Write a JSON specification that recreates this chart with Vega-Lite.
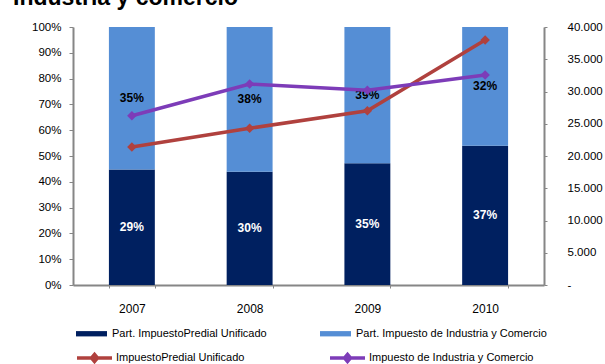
{
  "$schema": "https://vega.github.io/schema/vega-lite/v6.json",
  "width": 471,
  "height": 258,
  "autosize": {"type": "none"},
  "padding": {"left": 73, "top": 27, "right": 61, "bottom": 79},
  "background": "white",
  "title": {
    "text": "Industria y comercio",
    "anchor": "start",
    "frame": "group",
    "font": "Liberation Sans",
    "fontSize": 23,
    "fontWeight": "bold",
    "color": "#000000",
    "baseline": "alphabetic",
    "offset": 0,
    "dx": -60,
    "dy": 7
  },
  "config": {
    "view": {"stroke": null},
    "font": "Liberation Sans",
    "axis": {
      "labelFont": "Liberation Sans",
      "labelColor": "#000000",
      "domainColor": "#868686",
      "tickColor": "#868686",
      "grid": false,
      "title": null,
      "labelOverlap": false
    },
    "legend": {
      "labelFont": "Liberation Sans",
      "labelFontSize": 11,
      "labelColor": "#000000",
      "labelLimit": 400,
      "padding": 0,
      "title": null
    }
  },
  "datasets": {
    "barras": [
      {"anio": "2007", "serie": "Part. ImpuestoPredial Unificado", "orden": 1, "participacion": 0.448, "etiqueta": "29%"},
      {"anio": "2007", "serie": "Part. Impuesto de Industria y Comercio", "orden": 2, "participacion": 0.552, "etiqueta": "35%"},
      {"anio": "2008", "serie": "Part. ImpuestoPredial Unificado", "orden": 1, "participacion": 0.439, "etiqueta": "30%"},
      {"anio": "2008", "serie": "Part. Impuesto de Industria y Comercio", "orden": 2, "participacion": 0.561, "etiqueta": "38%"},
      {"anio": "2009", "serie": "Part. ImpuestoPredial Unificado", "orden": 1, "participacion": 0.472, "etiqueta": "35%"},
      {"anio": "2009", "serie": "Part. Impuesto de Industria y Comercio", "orden": 2, "participacion": 0.528, "etiqueta": "39%"},
      {"anio": "2010", "serie": "Part. ImpuestoPredial Unificado", "orden": 1, "participacion": 0.54, "etiqueta": "37%"},
      {"anio": "2010", "serie": "Part. Impuesto de Industria y Comercio", "orden": 2, "participacion": 0.46, "etiqueta": "32%"}
    ],
    "lineas": [
      {"anio": "2007", "serie": "ImpuestoPredial Unificado", "valor": 21400},
      {"anio": "2008", "serie": "ImpuestoPredial Unificado", "valor": 24300},
      {"anio": "2009", "serie": "ImpuestoPredial Unificado", "valor": 27000},
      {"anio": "2010", "serie": "ImpuestoPredial Unificado", "valor": 38000},
      {"anio": "2007", "serie": "Impuesto de Industria y Comercio", "valor": 26250},
      {"anio": "2008", "serie": "Impuesto de Industria y Comercio", "valor": 31150},
      {"anio": "2009", "serie": "Impuesto de Industria y Comercio", "valor": 30200},
      {"anio": "2010", "serie": "Impuesto de Industria y Comercio", "valor": 32550}
    ]
  },
  "layer": [
    {
      "layer": [
        {
          "data": {"name": "barras"},
          "mark": {"type": "bar"},
          "encoding": {
            "x": {
              "field": "anio",
              "type": "nominal",
              "scale": {"paddingInner": 0.61, "paddingOuter": 0.305},
              "axis": {
                "labelAngle": 0,
                "labelFontSize": 12,
                "tickBand": "extent",
                "tickSize": 3,
                "labelPadding": 15,
                "domainWidth": 2,
                "tickWidth": 1
              }
            },
            "y": {
              "field": "participacion",
              "type": "quantitative",
              "stack": "zero",
              "scale": {"domain": [0, 1]},
              "axis": {
                "orient": "left",
                "format": ".0%",
                "values": [0, 0.1, 0.2, 0.3, 0.4, 0.5, 0.6, 0.7, 0.8, 0.9, 1],
                "labelFontSize": 11.5,
                "tickSize": 4,
                "labelPadding": 8,
                "domainWidth": 2
              }
            },
            "fill": {
              "field": "serie",
              "type": "nominal",
              "scale": {
                "domain": ["Part. ImpuestoPredial Unificado", "Part. Impuesto de Industria y Comercio"],
                "range": ["#002060", "#558ED5"]
              },
              "legend": {
                "orient": "none",
                "direction": "horizontal",
                "legendX": 3,
                "legendY": 291,
                "symbolType": "M-1,-0.171H1V0.171H-1Z",
                "symbolSize": 961,
                "symbolStrokeWidth": 0,
                "labelOffset": 5,
                "columnPadding": 53
              }
            },
            "order": {"field": "orden"}
          }
        },
        {
          "data": {"name": "barras"},
          "transform": [
            {"stack": "participacion", "groupby": ["anio"], "sort": [{"field": "orden"}], "as": ["y0", "y1"]},
            {"calculate": "(datum.y0 + datum.y1) / 2", "as": "ymedio"}
          ],
          "mark": {"type": "text", "fontWeight": "bold", "fontSize": 12, "font": "Liberation Sans"},
          "encoding": {
            "x": {"field": "anio", "type": "nominal"},
            "y": {
              "field": "ymedio",
              "type": "quantitative",
              "scale": {"domain": [0, 1]},
              "axis": {
                "orient": "left",
                "format": ".0%",
                "values": [0, 0.1, 0.2, 0.3, 0.4, 0.5, 0.6, 0.7, 0.8, 0.9, 1],
                "labelFontSize": 11.5,
                "tickSize": 4,
                "labelPadding": 8,
                "domainWidth": 2
              }
            },
            "text": {"field": "etiqueta"},
            "color": {"condition": {"test": "datum.orden == 1", "value": "#ffffff"}, "value": "#000000"}
          }
        }
      ]
    },
    {
      "data": {"name": "lineas"},
      "encoding": {
        "x": {"field": "anio", "type": "nominal"},
        "y": {
          "field": "valor",
          "type": "quantitative",
          "scale": {"domain": [0, 40000]},
          "axis": {
            "orient": "right",
            "values": [0, 5000, 10000, 15000, 20000, 25000, 30000, 35000, 40000],
            "labelExpr": "datum.value == 0 ? '-' : replace(format(datum.value, ','), ',', '.')",
            "labelFontSize": 11.5,
            "tickSize": 3,
            "labelPadding": 20,
            "domainWidth": 2
          }
        },
        "color": {
          "field": "serie",
          "type": "nominal",
          "scale": {
            "domain": ["ImpuestoPredial Unificado", "Impuesto de Industria y Comercio"],
            "range": ["#B0413E", "#7D3CB8"]
          },
          "legend": {
            "orient": "none",
            "direction": "horizontal",
            "legendX": 2,
            "legendY": 311.5,
            "symbolType": "M-1,0H1M0,-0.2L0.17,0L0,0.2L-0.17,0Z",
            "symbolSize": 1225,
            "symbolStrokeWidth": 3.5,
            "labelOffset": 2,
            "columnPadding": 78
          }
        }
      },
      "layer": [
        {"mark": {"type": "line", "strokeWidth": 3.5}},
        {"mark": {"type": "point", "shape": "diamond", "size": 90, "filled": true, "opacity": 1}}
      ]
    }
  ],
  "resolve": {"scale": {"y": "independent"}}
}
